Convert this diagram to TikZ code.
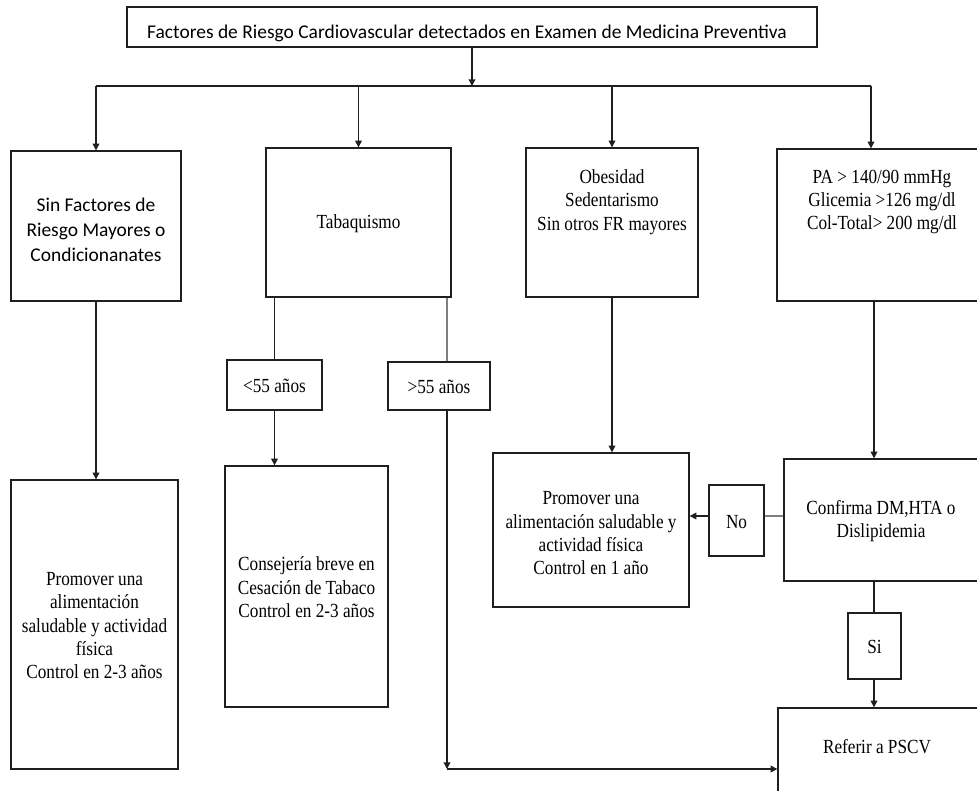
\documentclass[tikz,border=0pt]{standalone}
\usepackage{fontspec}
\setmainfont[FakeStretch=0.86]{Liberation Serif}
\newfontfamily\calfont{Carlito}
\usetikzlibrary{arrows.meta,fit}
\begin{document}
\begin{tikzpicture}[x=0.75pt,y=-0.75pt,
  ln/.style={draw=black!88, line width=1pt},
  lg/.style={draw=black!50, line width=1pt},
  bx/.style={ln, rectangle, inner sep=0pt},
  txt/.style={align=center, inner sep=0pt, font=\fontsize{15}{17.6}\selectfont},
  tin/.style={txt, yshift=-0.8pt},
  ctx/.style={align=center, inner sep=0pt, font=\calfont\fontsize{14.6}{18.75}\selectfont},
  arr/.style={ln, -{Triangle[length=5pt,width=5pt]}},
]
\clip (0,0) rectangle (977,790);
\fill[white] (0,0) rectangle (977,790);

% boxes
\node[bx, fit={(127,7) (817,47)}] (top) {};
\node[ctx] (toptxt) at (467,33) {Factores de Riesgo Cardiovascular detectados en Examen de Medicina Preventiva};

\node[bx, fit={(11,151) (181,301)}] (b1) {};
\node[ctx, yshift=-2.5pt] (b1t) at (b1) {Sin Factores de\\Riesgo Mayores o\\Condicionanates};
\node[bx, fit={(266,148) (451,297)}] (b2) {};
\node[tin] (b2t) at (b2) {Tabaquismo};
\node[bx, fit={(526,148) (698,297)}] (b3) {};
\node[txt] (b3t) at (612,202) {Obesidad\\Sedentarismo\\Sin otros FR mayores};
\node[bx, fit={(777,149) (986,301)}] (b4) {};
\node[txt] (b4t) at (882,202) {PA > 140/90 mmHg\\Glicemia >126 mg/dl\\Col-Total> 200 mg/dl};

\node[bx, fit={(227,360) (322,410)}] (lt) {};
\node[tin] (ltt) at (lt) {<55 años};
\node[bx, fit={(388,362) (490,410)}] (gt) {};
\node[tin] (gtt) at (gt) {>55 años};

\node[bx, fit={(11,480) (178,769)}] (p1) {};
\node[tin] (p1t) at (p1) {Promover una\\alimentación\\saludable y actividad\\física\\Control en 2-3 años};
\node[bx, fit={(225,466) (388,707)}] (cons) {};
\node[tin] (const) at (cons) {Consejería breve en\\Cesación de Tabaco\\Control en 2-3 años};
\node[bx, fit={(493,453) (689,607)}] (p2) {};
\node[txt, yshift=-2.5pt] (p2t) at (p2) {Promover una\\alimentación saludable y\\actividad física\\Control en 1 año};
\node[bx, fit={(709,485) (764,556)}] (no) {};
\node[tin] (not) at (no) {No};
\node[bx, fit={(784,459) (986,581)}] (conf) {};
\node[tin] (conft) at (881,520) {Confirma DM,HTA o\\Dislipidemia};
\node[bx, fit={(848,613) (901,679)}] (si) {};
\node[tin] (sit) at (si) {Si};
\node[bx, fit={(778,708) (986,800)}] (ref) {};
\node[txt] (reft) at (877,747) {Referir a PSCV};

% coordinates
\coordinate (bus) at (472,86);
\coordinate (busL) at (96,86);
\coordinate (busR) at (871,86);
\coordinate (gx) at (447,769);
\coordinate (rx) at (874,0);
\coordinate (ny) at (0,516);

% connectors
\draw[ln] (busL) -- (busR);
\draw[arr] (top.south) -- (bus);
\draw[arr] (busL) -- (b1.north);
\draw[arr] (b2.north |- bus) -- (b2.north);
\draw[arr] (b3.north |- bus) -- (b3.north);
\draw[arr] (busR) -- (busR |- b4.north);

\draw[arr] (b1.south) -- (b1.south |- p1.north);
\draw[ln] (lt.north |- b2.south) -- (lt.north);
\draw[arr] (lt.south) -- (lt.south |- cons.north);
\draw[lg] (b2.south -| gx) -- (gt.north -| gx);
\draw[arr] (gt.south -| gx) -- (gx);
\draw[arr] (gx) -- (gx -| ref.west);

\draw[arr] (b3.south) -- (b3.south |- p2.north);
\draw[arr] (rx |- b4.south) -- (rx |- conf.north);
\draw[lg] (conf.west |- ny) -- (no.east |- ny);
\draw[arr] (no.west |- ny) -- (p2.east |- ny);
\draw[ln] (rx |- conf.south) -- (rx |- si.north);
\draw[arr] (rx |- si.south) -- (rx |- ref.north);
\end{tikzpicture}
\end{document}
